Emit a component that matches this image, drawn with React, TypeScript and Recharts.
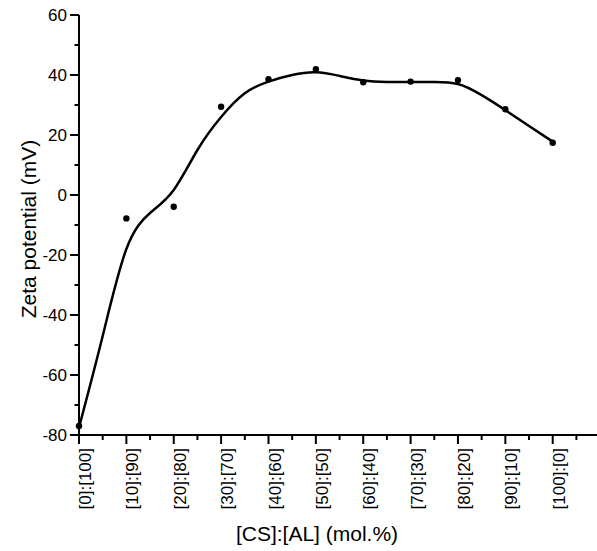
import React from "react";
import { ComposedChart, Line, Scatter, XAxis, YAxis } from "recharts";

// composition labels, CS:AL mol.%
const categories = [
  "[0]:[100]",
  "[10]:[90]",
  "[20]:[80]",
  "[30]:[70]",
  "[40]:[60]",
  "[50]:[50]",
  "[60]:[40]",
  "[70]:[30]",
  "[80]:[20]",
  "[90]:[10]",
  "[100]:[0]",
];
const csPercent = [0, 10, 20, 30, 40, 50, 60, 70, 80, 90, 100];

// measured zeta potential (mV)
const zeta = [-77, -7.8, -3.9, 29.4, 38.6, 41.9, 37.6, 37.8, 38.3, 28.6, 17.4];

// smoothed curve, every 5 mol.%
const fitX = [0, 5, 10, 15, 20, 25, 30, 35, 40, 45, 50, 55, 60, 65, 70, 75, 80, 85, 90, 95, 100];
const fitY = [-77.5, -47, -18, -6, 1.7, 15, 26, 33.9, 37.8, 40, 40.9, 39.7, 38.2, 37.7, 37.7, 37.7, 37, 33.3, 28.3, 23, 17.8];

const yTicks = [-80, -70, -60, -50, -40, -30, -20, -10, 0, 10, 20, 30, 40, 50, 60];
const xTicks = [0, 5, 10, 15, 20, 25, 30, 35, 40, 45, 50, 55, 60, 65, 70, 75, 80, 85, 90, 95, 100, 105];

const points = csPercent.map((x, i) => ({ x, y: zeta[i] }));
const fit = fitX.map((x, i) => ({ x, y: fitY[i] }));

const font = "'Liberation Sans', Arial, sans-serif";

function YTick(props: any) {
  const { x, y, payload } = props;
  const major = payload.value % 20 === 0;
  return (
    <g>
      <line x1={x - (major ? 9 : 4.5)} x2={x} y1={y} y2={y} stroke="#000" strokeWidth={2} />
      {major && (
        <text
          x={x - 12}
          y={y}
          textAnchor="end"
          dominantBaseline="central"
          fontSize={17}
          fontFamily={font}
          fill="#000"
        >
          {payload.value}
        </text>
      )}
    </g>
  );
}

function XTick(props: any) {
  const { x, y, payload } = props;
  const idx = csPercent.indexOf(payload.value);
  const major = idx >= 0;
  const ty = y + 13;
  return (
    <g>
      <line x1={x} x2={x} y1={y} y2={y + (major ? 9 : 5)} stroke="#000" strokeWidth={2} />
      {major && (
        <text
          x={x}
          y={ty}
          dy="0.71em"
          transform={`rotate(-90 ${x} ${ty})`}
          textAnchor="end"
          fontSize={17}
          fontFamily={font}
          fill="#000"
        >
          {categories[idx]}
        </text>
      )}
    </g>
  );
}

function XTitle(props: any) {
  const { viewBox } = props;
  return (
    <text
      x={viewBox.x + 238}
      y={viewBox.y + 106}
      textAnchor="middle"
      fontSize={21}
      fontFamily={font}
      fill="#000"
    >
      [CS]:[AL] (mol.%)
    </text>
  );
}

function YTitle(props: any) {
  const { viewBox } = props;
  const cx = 28;
  const cy = viewBox.y + viewBox.height / 2 + 4;
  return (
    <text
      x={cx}
      y={cy}
      transform={`rotate(-90 ${cx} ${cy})`}
      textAnchor="middle"
      dominantBaseline="central"
      fontSize={21}
      fontFamily={font}
      fill="#000"
    >
      Zeta potential (mV)
    </text>
  );
}

export default function App() {
  return (
    <div style={{ position: "absolute", left: 0, top: 0, width: 597, height: 551, background: "#fff" }}>
      <ComposedChart width={597} height={551} margin={{ top: 15, right: 0, bottom: 0, left: 0 }}>
        <XAxis
          type="number"
          dataKey="x"
          domain={[0, 109.35]}
          ticks={xTicks}
          interval={0}
          height={116}
          axisLine={{ stroke: "#000", strokeWidth: 2 }}
          tickLine={false}
          tickSize={0}
          tickMargin={0}
          tick={<XTick />}
          label={<XTitle />}
        />
        <YAxis
          type="number"
          domain={[-80, 60]}
          ticks={yTicks}
          interval={0}
          width={79}
          axisLine={{ stroke: "#000", strokeWidth: 2 }}
          tickLine={false}
          tickSize={0}
          tickMargin={0}
          tick={<YTick />}
          label={<YTitle />}
        />
        <Line
          data={fit}
          dataKey="y"
          type="natural"
          stroke="#000"
          strokeWidth={2.5}
          dot={false}
          activeDot={false}
          isAnimationActive={false}
        />
        <Scatter
          data={points}
          dataKey="y"
          fill="#000"
          shape={(p: any) => <circle cx={p.cx} cy={p.cy} r={3.2} fill="#000" />}
          isAnimationActive={false}
        />
      </ComposedChart>
    </div>
  );
}
